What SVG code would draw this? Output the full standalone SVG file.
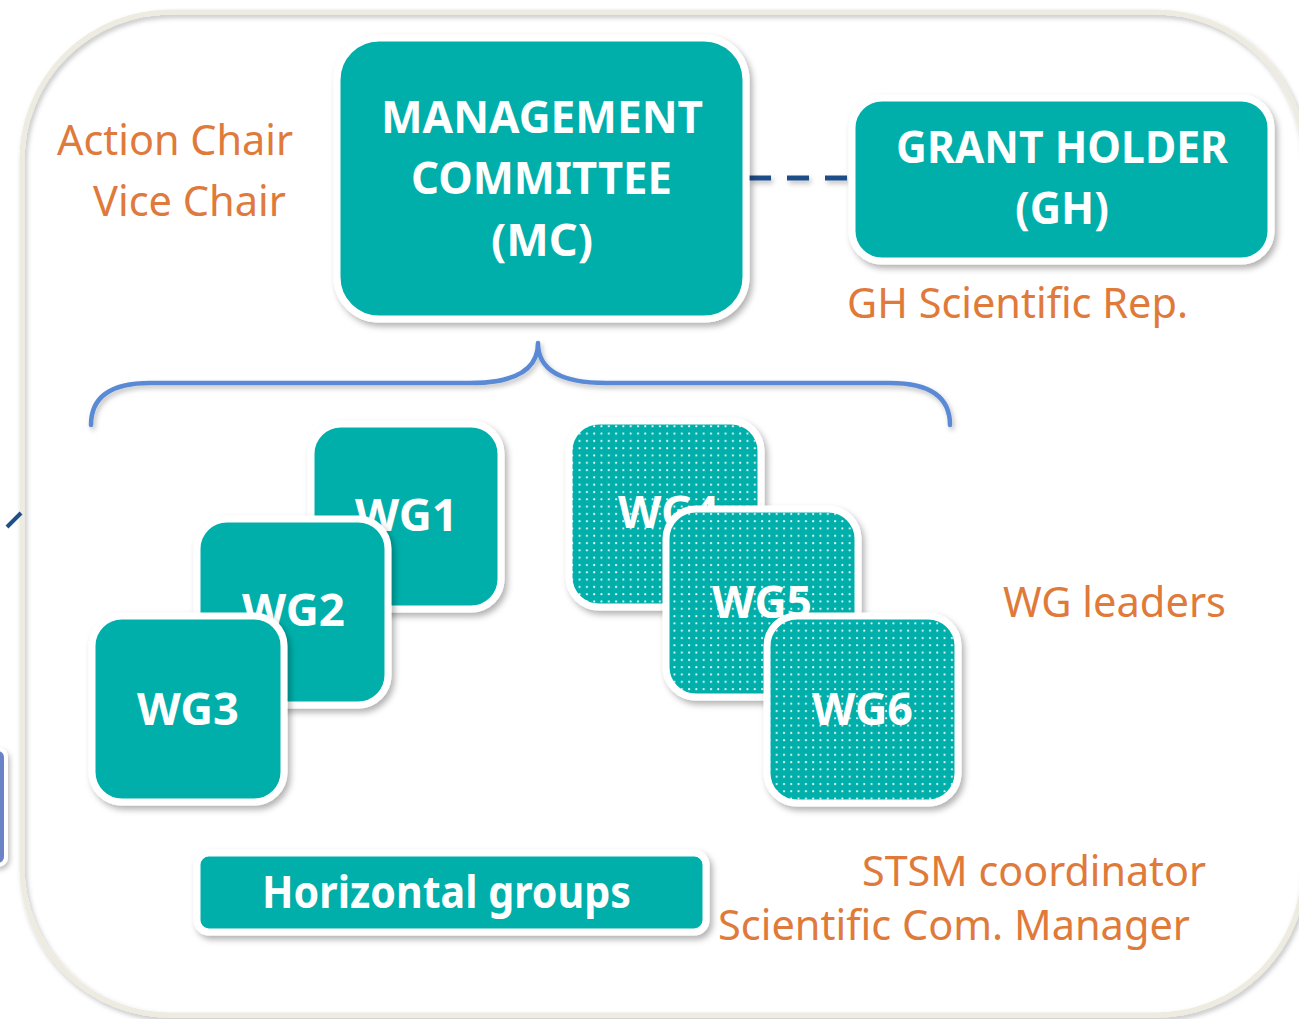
<svg xmlns="http://www.w3.org/2000/svg" width="1299" height="1019" viewBox="0 0 1299 1019">
<defs>
  <filter id="sh" x="-20%" y="-20%" width="140%" height="140%">
    <feDropShadow dx="3" dy="4" stdDeviation="3" flood-color="#000" flood-opacity="0.3"/>
  </filter>
  <filter id="shu" filterUnits="userSpaceOnUse" x="0" y="0" width="1299" height="1019">
    <feDropShadow dx="2" dy="3" stdDeviation="2.5" flood-color="#000" flood-opacity="0.25"/>
  </filter>
  <pattern id="dots" x="0" y="0" width="7.3" height="7.3" patternUnits="userSpaceOnUse">
    <rect x="2" y="2" width="1.8" height="1.8" fill="#ffffff"/>
  </pattern>
  <style>
    .box { fill: #00AFAA; stroke: #ffffff; stroke-width: 7; filter: url(#sh); }
    .dot { fill: url(#dots); }
    .lbl { font-family: "Noto Sans", "Open Sans", sans-serif; font-weight: bold; fill: #ffffff; font-size: 44px; }
    .org { font-family: "Noto Sans", "Open Sans", sans-serif; fill: #E07A3A; font-size: 41px; }
  </style>
</defs>
<rect width="1299" height="1019" fill="#ffffff"/>

<!-- outer container -->
<rect x="22" y="12" width="1282" height="1003" rx="148" ry="148" fill="none" stroke="#EEEBE0" stroke-width="5" filter="url(#shu)"/>

<!-- left edge fragments -->
<g id="edge-fragments">
  <line x1="7" y1="527" x2="21" y2="513" stroke="#1F4E89" stroke-width="4"/>
  <rect x="-20" y="749" width="26" height="116" rx="8" fill="#6A82C6" stroke="#ffffff" stroke-width="4" filter="url(#shu)"/>
</g>

<!-- connectors -->
<g id="connectors">
  <line x1="749" y1="178" x2="848" y2="178" stroke="#1F4E89" stroke-width="5" stroke-dasharray="22,16" filter="url(#shu)"/>
  <path d="M 91,425 Q 91,383 150,383 L 470,383 Q 538,383 538,343 Q 538,383 606,383 L 890,383 Q 950,383 950,425" fill="none" stroke="#5A8AD6" stroke-width="4.5" stroke-linecap="round" stroke-linejoin="round" filter="url(#shu)"/>
</g>

<!-- orange labels -->
<g id="labels">
  <text class="org" x="57" y="155" textLength="236" lengthAdjust="spacingAndGlyphs">Action Chair</text>
  <text class="org" x="93" y="216" textLength="193" lengthAdjust="spacingAndGlyphs">Vice Chair</text>
  <text class="org" x="847" y="318" textLength="341" lengthAdjust="spacingAndGlyphs">GH Scientific Rep.</text>
  <text class="org" x="1003" y="617" textLength="223" lengthAdjust="spacingAndGlyphs">WG leaders</text>
  <text class="org" x="862" y="886" textLength="344" lengthAdjust="spacingAndGlyphs">STSM coordinator</text>
  <text class="org" x="718" y="940" textLength="472" lengthAdjust="spacingAndGlyphs">Scientific Com. Manager</text>
</g>

<g id="mc">
  <rect class="box" x="337" y="38" width="409" height="281" rx="42"/>
  <text class="lbl" x="381" y="133" textLength="322" lengthAdjust="spacingAndGlyphs">MANAGEMENT</text>
  <text class="lbl" x="411" y="194" textLength="261" lengthAdjust="spacingAndGlyphs">COMMITTEE</text>
  <text class="lbl" x="491" y="256" textLength="102" lengthAdjust="spacingAndGlyphs">(MC)</text>
</g>

<g id="gh">
  <rect class="box" x="852" y="98" width="419" height="163" rx="30"/>
  <text class="lbl" x="896" y="163" textLength="332" lengthAdjust="spacingAndGlyphs">GRANT HOLDER</text>
  <text class="lbl" x="1015" y="224" textLength="94" lengthAdjust="spacingAndGlyphs">(GH)</text>
</g>

<g id="wg1">
  <rect class="box" x="311" y="424" width="190" height="185" rx="30"/>
  <text class="lbl" x="355" y="531" textLength="103" lengthAdjust="spacingAndGlyphs">WG1</text>
</g>
<g id="wg2">
  <rect class="box" x="197" y="519" width="191" height="186" rx="30"/>
  <text class="lbl" x="242" y="626" textLength="103" lengthAdjust="spacingAndGlyphs">WG2</text>
</g>
<g id="wg3">
  <rect class="box" x="92" y="616" width="192" height="186" rx="30"/>
  <text class="lbl" x="137" y="725" textLength="102" lengthAdjust="spacingAndGlyphs">WG3</text>
</g>

<g id="wg4">
  <rect class="box" x="569" y="421" width="192" height="186" rx="30"/>
  <rect class="dot" x="572" y="424" width="186" height="180" rx="27"/>
  <text class="lbl" x="618" y="528" textLength="101" lengthAdjust="spacingAndGlyphs">WG4</text>
</g>
<g id="wg5">
  <rect class="box" x="666" y="509" width="192" height="188" rx="30"/>
  <rect class="dot" x="669" y="512" width="186" height="182" rx="27"/>
  <text class="lbl" x="712" y="618" textLength="100" lengthAdjust="spacingAndGlyphs">WG5</text>
</g>
<g id="wg6">
  <rect class="box" x="767" y="616" width="191" height="187" rx="30"/>
  <rect class="dot" x="770" y="619" width="185" height="181" rx="27"/>
  <text class="lbl" x="812" y="725" textLength="101" lengthAdjust="spacingAndGlyphs">WG6</text>
</g>

<g id="hg">
  <rect class="box" x="197" y="853" width="509" height="79" rx="12"/>
  <text class="lbl" x="262" y="908" font-size="42" textLength="369" lengthAdjust="spacingAndGlyphs">Horizontal groups</text>
</g>
</svg>
